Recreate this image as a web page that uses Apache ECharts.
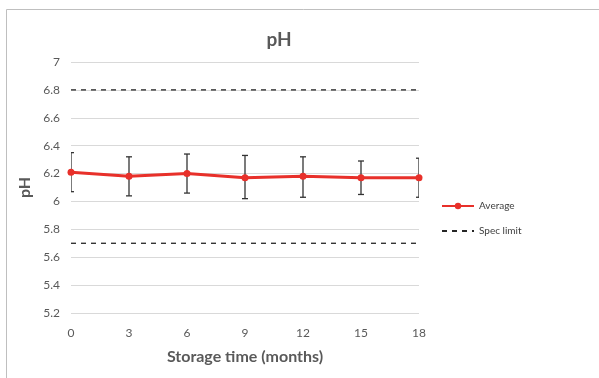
<!DOCTYPE html>
<html>
<head>
<meta charset="utf-8">
<script src="https://cdn.jsdelivr.net/npm/echarts@6/dist/echarts.min.js"></script>
<style>
  html, body { margin: 0; padding: 0; background: #fff; }
  #chart { width: 599px; height: 378px; }
</style>
</head>
<body>
<div id="chart"></div>
<script>
// Storage time points (months) and measured pH
const months = [0, 3, 6, 9, 12, 15, 18];
const phAverage = [6.21, 6.18, 6.20, 6.17, 6.18, 6.17, 6.17];
const phUpper = [6.35, 6.32, 6.34, 6.33, 6.32, 6.29, 6.31];
const phLower = [6.07, 6.04, 6.06, 6.02, 6.03, 6.05, 6.03];
const specUpper = 6.8;
const specLower = 5.7;

const FONT = 'Lato, "Open Sans", sans-serif';
const GREY = '#595959';

const chart = echarts.init(document.getElementById('chart'));

const avgData = months.map((m, i) => [m, phAverage[i]]);
const errData = months.map((m, i) => [m, phLower[i], phUpper[i]]);
const firstM = months[0], lastM = months[months.length - 1];

chart.setOption({
  animation: false,
  graphic: [{
    type: 'rect',
    shape: { x: 6.5, y: 9.5, width: 700, height: 500 },
    style: { fill: 'none', stroke: '#bfbfbf', lineWidth: 1 },
    silent: true, z: -10
  }],
  title: {
    text: 'pH',
    left: 274, top: 25, textAlign: 'center',
    textStyle: { fontFamily: FONT, fontSize: 19, fontWeight: 'bold', color: GREY }
  },
  legend: {
    orient: 'vertical',
    left: 436, top: 196,
    itemWidth: 32, itemHeight: 8, itemGap: 15,
    textStyle: { fontFamily: FONT, fontSize: 10, color: '#404040' },
    data: [
      { name: 'Average' },
      { name: 'Spec limit', itemStyle: { opacity: 0 } }
    ]
  },
  grid: { left: 71, right: 180, top: 62, bottom: 65, containLabel: false },
  xAxis: {
    type: 'value', min: 0, max: 18, interval: 3,
    name: 'Storage time (months)', nameLocation: 'middle', nameGap: 36,
    nameTextStyle: { fontFamily: FONT, fontSize: 16, fontWeight: 'bold', color: GREY },
    axisLine: { show: false }, axisTick: { show: false },
    splitLine: { show: false },
    axisLabel: { fontFamily: FONT, fontSize: 12, color: GREY, margin: 14 }
  },
  yAxis: {
    type: 'value', min: 5.2, max: 7, interval: 0.2,
    name: 'pH', nameLocation: 'middle', nameGap: 31, nameRotate: 90,
    nameTextStyle: { fontFamily: FONT, fontSize: 16, fontWeight: 'bold', color: GREY },
    axisLine: { show: false }, axisTick: { show: false },
    splitLine: { lineStyle: { color: '#d9d9d9', width: 1 } },
    axisLabel: {
      fontFamily: FONT, fontSize: 12, color: GREY, margin: 11,
      formatter: v => String(Math.round(v * 10) / 10)
    }
  },
  series: [
    {
      name: 'Spec limit', type: 'line', symbol: 'none',
      data: [[firstM, specUpper], [lastM, specUpper]],
      lineStyle: { color: '#262626', width: 1.3, type: [5, 5] },
      itemStyle: { color: '#262626' }, z: 2
    },
    {
      name: 'Spec limit', type: 'line', symbol: 'none',
      data: [[firstM, specLower], [lastM, specLower]],
      lineStyle: { color: '#262626', width: 1.3, type: [5, 5] },
      itemStyle: { color: '#262626' }, z: 2
    },
    {
      name: 'error', type: 'custom', clip: true, z: 3,
      data: errData,
      renderItem: function (params, api) {
        const x = api.value(0);
        const lo = api.coord([x, api.value(1)]);
        const hi = api.coord([x, api.value(2)]);
        const hw = 3;
        const style = { stroke: '#333', lineWidth: 1.3 };
        return {
          type: 'group',
          children: [
            { type: 'line', shape: { x1: lo[0], y1: lo[1], x2: hi[0], y2: hi[1] }, style },
            { type: 'line', shape: { x1: hi[0] - hw, y1: hi[1], x2: hi[0] + hw, y2: hi[1] }, style },
            { type: 'line', shape: { x1: lo[0] - hw, y1: lo[1], x2: lo[0] + hw, y2: lo[1] }, style }
          ]
        };
      }
    },
    {
      name: 'Average', type: 'line',
      data: avgData,
      symbol: 'circle', symbolSize: 7,
      lineStyle: { color: '#e8302a', width: 3 },
      itemStyle: { color: '#e8302a' }, z: 5
    }
  ]
});
</script>
</body>
</html>
